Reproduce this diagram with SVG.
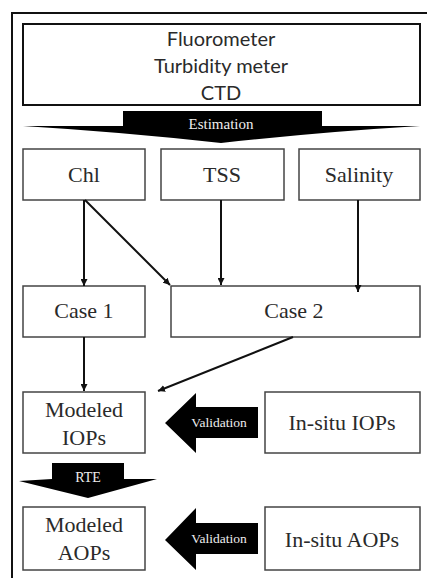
<svg xmlns="http://www.w3.org/2000/svg" width="427" height="578" viewBox="0 0 427 578">
<defs>
<marker id="ah" viewBox="0 0 10 10" refX="10" refY="5" markerWidth="7" markerHeight="7" markerUnits="userSpaceOnUse" orient="auto">
<path d="M0,0 L10,5 L0,10 z" fill="#111"/>
</marker>
<style>
.box{fill:#fff;stroke:#444;stroke-width:1.5}
.t{font-family:"Liberation Serif","Times New Roman",serif;font-size:22px;fill:#2a2a2a;text-anchor:middle}
.s{font-family:Lato,"Liberation Sans",sans-serif;font-size:20px;fill:#2a2a2a;text-anchor:middle}
.w{font-family:"Liberation Serif","Times New Roman",serif;fill:#eee;text-anchor:middle}
.c{stroke:#111;stroke-width:2;fill:none;marker-end:url(#ah)}
</style>
</defs>
<rect width="427" height="578" fill="#fff"/>
<path d="M12,590 V13 H440" fill="none" stroke="#111" stroke-width="2"/>

<g id="sensors">
<rect x="23" y="24" width="397" height="81" fill="#fff" stroke="#111" stroke-width="2"/>
<text class="s" x="221" y="46">Fluorometer</text>
<text class="s" x="221" y="73">Turbidity meter</text>
<text class="s" x="221" y="100">CTD</text>
</g>

<g id="estimation">
<path d="M123,111 H322 V126 H420 Q320,132 221,143 Q122,132 23,126 H123 z" fill="#000"/>
<text class="w" x="221" y="129" font-size="15">Estimation</text>
</g>

<g id="chl"><rect class="box" x="23" y="149" width="122" height="51"/><text class="t" x="84" y="182">Chl</text></g>
<g id="tss"><rect class="box" x="161" y="149" width="123" height="51"/><text class="t" x="222" y="182">TSS</text></g>
<g id="salinity"><rect class="box" x="299" y="149" width="121" height="51"/><text class="t" x="359" y="182">Salinity</text></g>

<g id="case1"><rect class="box" x="23" y="286" width="122" height="51"/><text class="t" x="84" y="318">Case 1</text></g>
<g id="case2"><rect class="box" x="171" y="286" width="249" height="51"/><text class="t" x="294" y="318">Case 2</text></g>

<g id="modeled-iops"><rect class="box" x="23" y="392" width="122" height="61"/><text class="t" x="84" y="417">Modeled</text><text class="t" x="84" y="445">IOPs</text></g>
<g id="insitu-iops"><rect class="box" x="265" y="392" width="155" height="61"/><text class="t" x="342" y="430">In-situ IOPs</text></g>

<g id="validation1">
<path d="M258,407 V438 H196 V453 L165,423 L196,393 V407 z" fill="#000"/>
<text class="w" x="219" y="427" font-size="13.5">Validation</text>
</g>

<g id="rte">
<path d="M52,463 H124 V479 H157 L88,498 L19,481 L52,479 z" fill="#000"/>
<text class="w" x="88" y="482" font-size="14">RTE</text>
</g>

<g id="modeled-aops"><rect class="box" x="23" y="507" width="122" height="63"/><text class="t" x="84" y="532">Modeled</text><text class="t" x="84" y="560">AOPs</text></g>
<g id="insitu-aops"><rect class="box" x="265" y="507" width="155" height="63"/><text class="t" x="342" y="547">In-situ AOPs</text></g>

<g id="validation2">
<path d="M258,523 V554 H196 V570 L165,540 L196,508 V523 z" fill="#000"/>
<text class="w" x="219" y="543" font-size="13.5">Validation</text>
</g>

<g id="connectors">
<line class="c" x1="84" y1="200" x2="84" y2="286"/>
<line class="c" x1="85" y1="200" x2="170" y2="285"/>
<line class="c" x1="221" y1="200" x2="221" y2="285"/>
<line class="c" x1="358" y1="200" x2="358" y2="292"/>
<line class="c" x1="84" y1="337" x2="84" y2="391"/>
<line class="c" x1="293" y1="337" x2="158" y2="391"/>
</g>
</svg>
